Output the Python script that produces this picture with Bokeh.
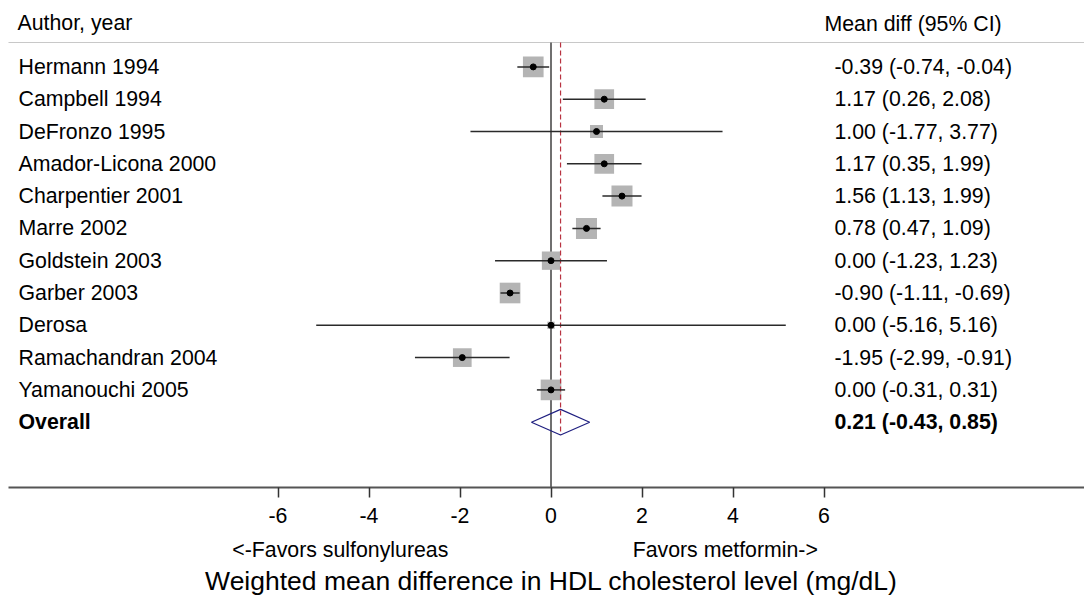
import math
from bokeh.plotting import figure
from bokeh.models import Range1d, LinearAxis, FixedTicker
from bokeh.core.properties import value
from bokeh.embed import file_html
from bokeh.resources import INLINE

# ---------------- data ----------------
studies = ["Hermann 1994", "Campbell 1994", "DeFronzo 1995", "Amador-Licona 2000",
           "Charpentier 2001", "Marre 2002", "Goldstein 2003", "Garber 2003",
           "Derosa", "Ramachandran 2004", "Yamanouchi 2005"]
mean_diff = [-0.39, 1.17, 1.00, 1.17, 1.56, 0.78, 0.00, -0.90, 0.00, -1.95, 0.00]
ci_low = [-0.74, 0.26, -1.77, 0.35, 1.13, 0.47, -1.23, -1.11, -5.16, -2.99, -0.31]
ci_high = [-0.04, 2.08, 3.77, 1.99, 1.99, 1.09, 1.23, -0.69, 5.16, -0.91, 0.31]
weights = [11.1, 10.1, 4.4, 10.1, 11.5, 11.5, 8.7, 11.1, 1.4, 9.1, 11.1]  # % weight

overall_label = "Overall"
overall_md = 0.21
overall_low = -0.43
overall_high = 0.85

x_ticks = [-6, -4, -2, 0, 2, 4, 6]
header_left = "Author, year"
header_right = "Mean diff (95% CI)"
favors_left = "<-Favors sulfonylureas"
favors_right = "Favors metformin->"
x_title = "Weighted mean difference in HDL cholesterol level (mg/dL)"

# ---------------- layout helpers ----------------
W, H = 1084, 596
X0 = 550.5      # canvas px of x = 0
PXU = 45.5      # px per unit
ROW0 = 66.4     # canvas px of first row
ROWH = 32.3     # px per row

def xd(px):
    return (px - X0) / PXU

def yd(px):
    return (px - ROW0) / ROWH

FONT = value("Liberation Sans")
FS = "21.3px"

rows = list(range(len(studies)))
overall_row = len(studies)
axis_y = yd(487)
header_line_y = yd(42)

p = figure(width=W, height=H, output_backend="svg", toolbar_location=None,
           x_range=Range1d(xd(0), xd(W)), y_range=Range1d(yd(H), yd(0)),
           x_axis_location=None, y_axis_location=None, min_border=0)
p.outline_line_color = None
p.grid.grid_line_color = None
p.background_fill_color = "white"
p.border_fill_color = "white"

# header rule
p.segment(x0=[xd(8)], y0=[header_line_y], x1=[xd(W)], y1=[header_line_y],
          line_color="#c8c8c8", line_width=1.2)

# zero line
p.segment(x0=[0], y0=[header_line_y], x1=[0], y1=[axis_y],
          line_color="#707070", line_width=2)

# weight squares
sizes = [6.2 * math.sqrt(w) for w in weights]
p.scatter(x=mean_diff, y=rows, marker="square", size=sizes,
          fill_color="#b4b4b4", line_color=None)

# overall dashed line
dh = 12.8 / ROWH
p.segment(x0=[overall_md], y0=[header_line_y], x1=[overall_md], y1=[overall_row + dh],
          line_color="#b83240", line_width=1.2, line_dash="5 3")

# confidence intervals
p.segment(x0=ci_low, y0=rows, x1=ci_high, y1=rows,
          line_color="#2a2a2a", line_width=1.5)

# point estimates
p.scatter(x=mean_diff, y=rows, marker="circle", size=6,
          fill_color="black", line_color="black")

# overall diamond
p.patch(x=[overall_low, overall_md, overall_high, overall_md],
        y=[overall_row, overall_row - dh, overall_row, overall_row + dh],
        fill_color=None, line_color="#1f1f80", line_width=1.2)

# texts
p.text(x=[xd(17)], y=[yd(22.5)], text=[header_left], text_font=FONT,
       text_font_size=FS, text_baseline="middle", text_align="left", text_color="black")
p.text(x=[xd(824)], y=[yd(23)], text=[header_right], text_font=FONT,
       text_font_size=FS, text_baseline="middle", text_align="left", text_color="black")

p.text(x=[xd(18)] * len(studies), y=rows, text=studies, text_font=FONT,
       text_font_size=FS, text_baseline="middle", text_align="left", text_color="black")
p.text(x=[xd(18)], y=[overall_row], text=[overall_label], text_font=FONT,
       text_font_size=FS, text_font_style="bold", text_baseline="middle",
       text_align="left", text_color="black")

stats = [f"{m:.2f} ({l:.2f}, {h:.2f})" for m, l, h in zip(mean_diff, ci_low, ci_high)]
p.text(x=[xd(834)] * len(stats), y=rows, text=stats, text_font=FONT,
       text_font_size=FS, text_baseline="middle", text_align="left", text_color="black")
p.text(x=[xd(834)], y=[overall_row],
       text=[f"{overall_md:.2f} ({overall_low:.2f}, {overall_high:.2f})"],
       text_font=FONT, text_font_size=FS, text_font_style="bold",
       text_baseline="middle", text_align="left", text_color="black")

# x axis with ticks
ax = LinearAxis(fixed_location=axis_y, ticker=FixedTicker(ticks=x_ticks),
                bounds=(xd(8), xd(W)),
                major_label_overrides={t: str(t) for t in x_ticks})
ax.axis_line_color = "#555555"
ax.axis_line_width = 2
ax.major_tick_line_color = "#333333"
ax.major_tick_line_width = 1.5
ax.major_tick_out = 10
ax.major_tick_in = 0
ax.minor_tick_out = 0
ax.minor_tick_in = 0
ax.major_label_text_font = "Liberation Sans"
ax.major_label_text_font_size = FS
ax.major_label_text_color = "black"
ax.major_label_standoff = 10
p.add_layout(ax, "below")

# favours captions and axis title
FAV_L, FAV_R = -4.63, 3.83
ax2 = LinearAxis(fixed_location=axis_y, bounds=(-6, 6),
                 ticker=FixedTicker(ticks=[FAV_L, FAV_R]),
                 major_label_overrides={FAV_L: favors_left, FAV_R: favors_right})
ax2.axis_line_color = None
ax2.major_tick_line_color = None
ax2.major_tick_out = 0
ax2.major_tick_in = 0
ax2.minor_tick_out = 0
ax2.minor_tick_in = 0
ax2.major_label_text_font = "Liberation Sans"
ax2.major_label_text_font_size = FS
ax2.major_label_text_color = "black"
ax2.major_label_standoff = 50
ax2.axis_label = x_title
ax2.axis_label_text_font = "Liberation Sans"
ax2.axis_label_text_font_size = "26.5px"
ax2.axis_label_text_font_style = "normal"
ax2.axis_label_text_color = "black"
ax2.axis_label_standoff = 1
p.add_layout(ax2, "below")

open("out.html", "w").write(file_html(p, INLINE))
